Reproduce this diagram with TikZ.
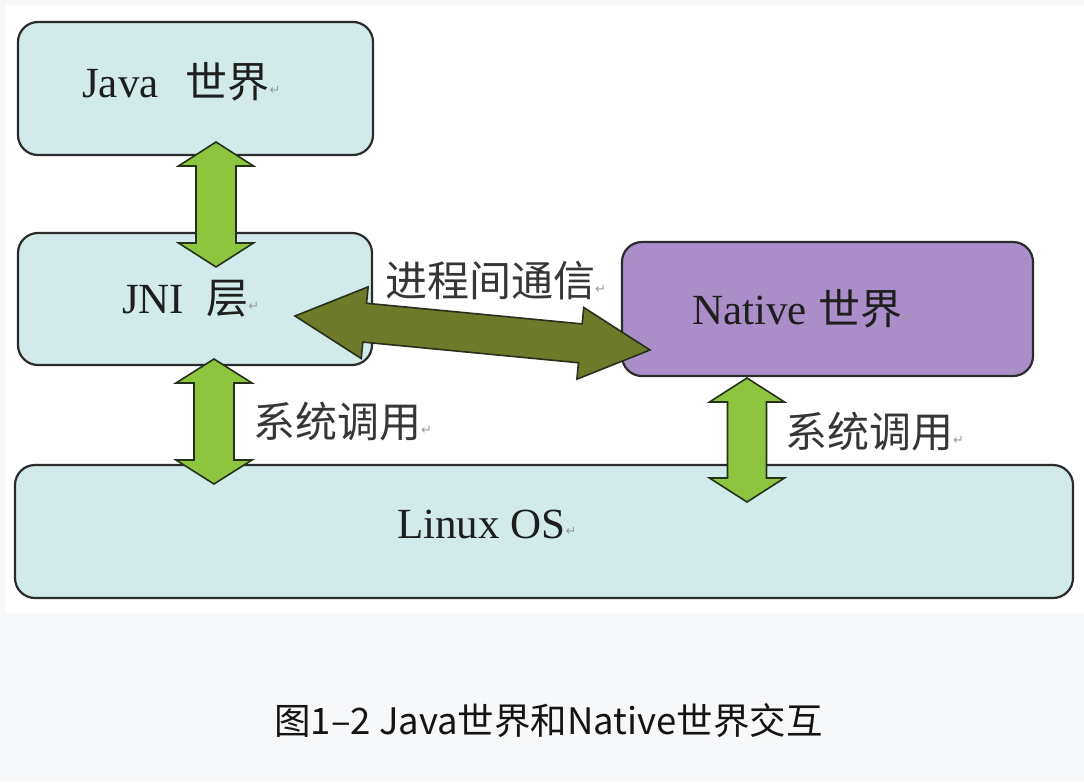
\documentclass[tikz,border=0pt]{standalone}
\usepackage{fontspec}
\setmainfont{Liberation Serif}
\newfontfamily\cjk{Noto Sans CJK SC}
\newfontfamily\symfont{DejaVu Sans}
\usetikzlibrary{calc}
\definecolor{bg}{HTML}{F7F8FA}
\definecolor{boxcyan}{HTML}{D2EAEA}
\definecolor{boxpurple}{HTML}{AA8ECA}
\definecolor{boxedge}{HTML}{2B2B2B}
\definecolor{agreen}{HTML}{8DC53F}
\definecolor{aolive}{HTML}{6D7A2A}
\definecolor{aedge}{HTML}{26301A}
\definecolor{txt}{HTML}{1E1E1E}
\definecolor{lbl}{HTML}{363636}
\definecolor{retgray}{HTML}{9A9A9A}
\newcommand\retmark{{\symfont\fontsize{13}{13}\selectfont\color{retgray}\raisebox{3pt}{↵}}}
% block double arrow between two named coordinates
% #1 start, #2 end, #3 head length, #4 head half width, #5 shaft half width, #6 style
\newcommand\blockarrow[6]{%
  \draw[#6] (#1)
    -- ($(#1)!#3!(#2)!#4!90:(#2)$)
    -- ($(#1)!#3!(#2)!#5!90:(#2)$)
    -- ($(#2)!#3!(#1)!#5!-90:(#1)$)
    -- ($(#2)!#3!(#1)!#4!-90:(#1)$)
    -- (#2)
    -- ($(#2)!#3!(#1)!#4!90:(#1)$)
    -- ($(#2)!#3!(#1)!#5!90:(#1)$)
    -- ($(#1)!#3!(#2)!#5!-90:(#2)$)
    -- ($(#1)!#3!(#2)!#4!-90:(#2)$)
    -- cycle;}
\begin{document}
\begin{tikzpicture}[x=1pt,y=-1pt,
  layerbox/.style={draw=boxedge, line width=2.2pt, rounded corners=20pt, inner sep=0pt},
  cyanbox/.style={layerbox, fill=boxcyan},
  purplebox/.style={layerbox, fill=boxpurple},
  greenarrow/.style={fill=agreen, draw=aedge, line width=1.6pt, line join=miter},
  olivearrow/.style={fill=aolive, draw=aedge, line width=1.6pt, line join=miter},
  boxtext/.style={inner sep=0pt, anchor=base west, text=txt, font=\fontsize{43}{43}\selectfont},
  labeltext/.style={inner sep=0pt, anchor=base west, text=lbl, font=\cjk\fontsize{42}{42}\selectfont},
]
\useasboundingbox (0,0) rectangle (1084,782);
\fill[bg] (0,0) rectangle (1084,782);
\fill[white] (6,5) rectangle (1084,613);

% layer boxes
\node[cyanbox, minimum width=355pt, minimum height=133pt] (java) at (195.5,88.5) {};
\node[cyanbox, minimum width=354pt, minimum height=132pt] (jni) at (195,299) {};
\node[purplebox, minimum width=411pt, minimum height=134pt] (native) at (827.5,309) {};
\node[cyanbox, minimum width=1058pt, minimum height=133pt] (linux) at (544,531.5) {};

% arrow end points
\coordinate (a1s) at (216,142);
\coordinate (a1e) at (216,267);
\coordinate (a2s) at (214,359);
\coordinate (a2e) at (214,484);
\coordinate (a3s) at (747,378);
\coordinate (a3e) at (747,502);
\coordinate (ips) at (295,316);
\coordinate (ipe) at (650,350);

\blockarrow{a1s}{a1e}{24pt}{37.5pt}{20pt}{greenarrow}
\blockarrow{a2s}{a2e}{24pt}{38pt}{20pt}{greenarrow}
\blockarrow{a3s}{a3e}{24pt}{37.5pt}{19.5pt}{greenarrow}
\blockarrow{ips}{ipe}{70pt}{36pt}{19.5pt}{olivearrow}

% box texts
\node[boxtext] (javatxt) at (82,97) {Java\hspace{27pt}{\cjk\fontsize{42}{42}\selectfont 世界}\retmark};
\node[boxtext] (jnitxt) at (122,313) {JNI\hspace{22pt}{\cjk\fontsize{42}{42}\selectfont 层}\retmark};
\node[boxtext] (nativetxt) at (692,324) {Native\hspace{12pt}{\cjk\fontsize{42}{42}\selectfont 世界}\retmark};
\node[boxtext] (linuxtxt) at (397,538) {Linux OS\retmark};

% connector labels
\node[labeltext] (ipclbl) at (385,296) {进程间通信\retmark};
\node[labeltext] (sys1lbl) at (253,437) {系统调用\retmark};
\node[labeltext] (sys2lbl) at (785,447) {系统调用\retmark};

% caption
\node[inner sep=0pt, anchor=base, text=black!92, font=\cjk\fontsize{36.5}{36.5}\selectfont] (caption) at (548.5,734) {图1–2 Java世界和Native世界交互};
\end{tikzpicture}
\end{document}
